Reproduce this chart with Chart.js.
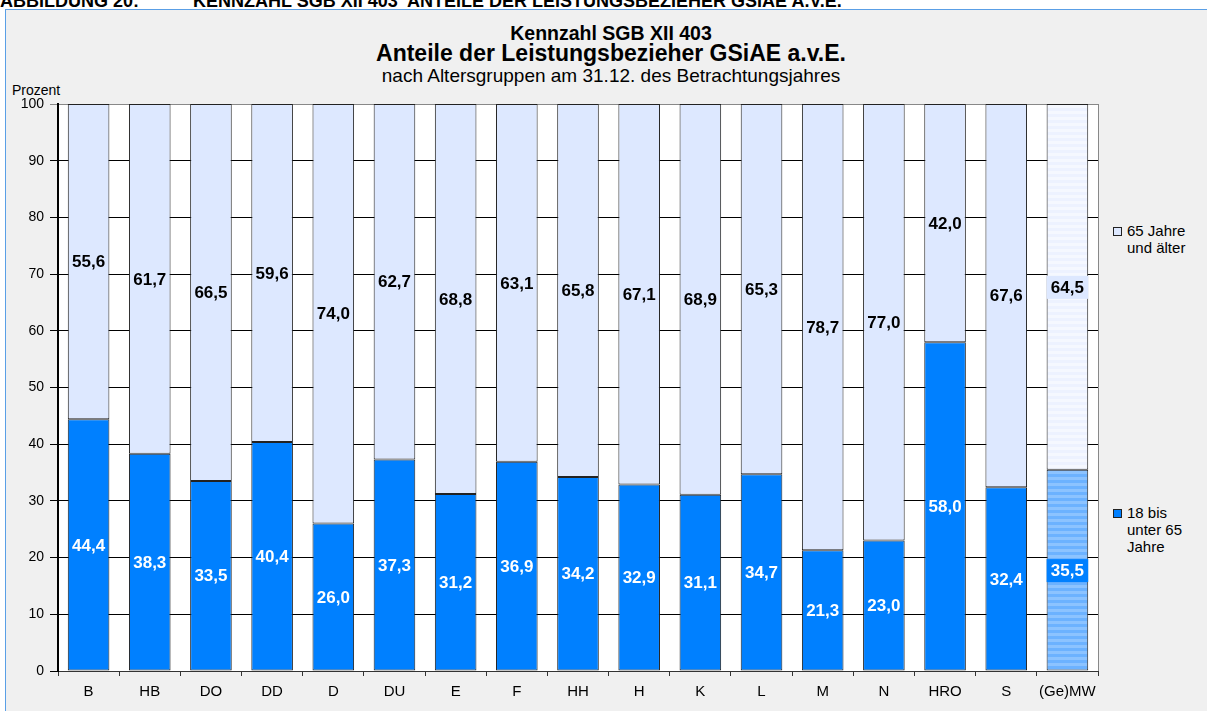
<!DOCTYPE html>
<html>
<head>
<meta charset="utf-8">
<script src="https://cdn.jsdelivr.net/npm/chart.js@4.4.1/dist/chart.umd.min.js"></script>
<style>
  body { margin: 0; width: 1207px; height: 711px; overflow: hidden; background: #fff; font-family: "Liberation Sans", Arial, sans-serif; }
  .kopf { position: absolute; top: -8px; font-size: 18px; line-height: 18px; font-weight: bold; white-space: pre; color: #000; }
  #rahmen { position: absolute; left: 5px; top: 9px; width: 1220px; height: 720px; background: #f0f0f0; border: 1.5px solid #5a9fe6; }
  .t { position: absolute; left: 0; width: 1222px; text-align: center; color: #000; white-space: nowrap; }
  #t1 { top: 24px; font-size: 19.5px; line-height: 19.5px; font-weight: bold; }
  #t2 { top: 42px; font-size: 23px; line-height: 23px; font-weight: bold; }
  #t3 { top: 66px; font-size: 19px; line-height: 19px; }
  #prozent { position: absolute; left: 12px; top: 83px; font-size: 14px; line-height: 14px; }
  .leg { position: absolute; left: 1113px; font-size: 15px; line-height: 17px; }
  .leg span { position: absolute; left: 0; top: 5px; width: 7px; height: 7px; border: 1px solid #222; }
  .leg div { margin-left: 14px; }
  #wrap { position: absolute; left: 0; top: 0; width: 1207px; height: 711px; }
</style>
</head>
<body>
<div class="kopf" style="left:0">ABBILDUNG 20:</div>
<div class="kopf" style="left:193px">KENNZAHL SGB XII 403  ANTEILE DER LEISTUNGSBEZIEHER GSIAE A.V.E.</div>
<div id="rahmen"></div>
<div class="t" id="t1">Kennzahl SGB XII 403</div>
<div class="t" id="t2">Anteile der Leistungsbezieher GSiAE a.v.E.</div>
<div class="t" id="t3">nach Altersgruppen am 31.12. des Betrachtungsjahres</div>
<div id="prozent">Prozent</div>
<div class="leg" style="top:222px"><span style="background:#dde8ff"></span><div>65 Jahre<br>und älter</div></div>
<div class="leg" style="top:504px"><span style="background:#0080ff"></span><div>18 bis<br>unter 65<br>Jahre</div></div>
<div id="wrap"><canvas id="chart" width="1207" height="711"></canvas></div>
<script>
const staedte = ['B', 'HB', 'DO', 'DD', 'D', 'DU', 'E', 'F', 'HH', 'H', 'K', 'L', 'M', 'N', 'HRO', 'S', '(Ge)MW'];
const jung = [44.4, 38.3, 33.5, 40.4, 26.0, 37.3, 31.2, 36.9, 34.2, 32.9, 31.1, 34.7, 21.3, 23.0, 58.0, 32.4, 35.5];
const alt = [55.6, 61.7, 66.5, 59.6, 74.0, 62.7, 68.8, 63.1, 65.8, 67.1, 68.9, 65.3, 78.7, 77.0, 42.0, 67.6, 64.5];
const yTicks = [0, 10, 20, 30, 40, 50, 60, 70, 80, 90, 100];

const BLAU = '#0080ff';
const HELL = '#dde8ff';

// Streifenmuster fuer den Mittelwert-Balken
function streifen(c1, c2) {
    const p = document.createElement('canvas');
    p.width = 4; p.height = 6;
    const g = p.getContext('2d');
    g.fillStyle = c1; g.fillRect(0, 0, 4, 3);
    g.fillStyle = c2; g.fillRect(0, 3, 4, 3);
    return g.createPattern(p, 'repeat');
}
const ctx = document.getElementById('chart').getContext('2d');
const mwJung = streifen('#6cb2ff', '#8cc3ff');
const mwAlt = streifen('#edf2ff', '#f5f8ff');

const fmt = v => v.toFixed(1).replace('.', ',');

const hintergrund = {
    id: 'hintergrund',
    beforeDraw(chart) {
        const a = chart.chartArea, c = chart.ctx;
        c.save();
        c.fillStyle = '#fff';
        c.fillRect(a.left, a.top, a.right - a.left, a.bottom - a.top);
        c.restore();
    },
    afterDraw(chart) {
        const a = chart.chartArea, c = chart.ctx;
        c.save();
        c.strokeStyle = '#888';
        c.lineWidth = 1;
        c.beginPath();
        c.moveTo(a.right + 0.5, a.top);
        c.lineTo(a.right + 0.5, a.bottom);
        c.stroke();
        c.restore();
    }
};

const werte = {
    id: 'werte',
    afterDatasetsDraw(chart) {
        const c = chart.ctx;
        c.save();
        c.font = 'bold 17px "Liberation Sans", Arial, sans-serif';
        c.textAlign = 'center';
        c.textBaseline = 'middle';
        chart.data.datasets.forEach((ds, di) => {
            chart.getDatasetMeta(di).data.forEach((bar, i) => {
                const mid = (bar.y + bar.base) / 2;
                const txt = fmt(ds.data[i]);
                if (i === ds.data.length - 1) {
                    const w = bar.width;
                    c.fillStyle = di === 0 ? BLAU : HELL;
                    c.fillRect(bar.x - w / 2, mid - 11, w, 23);
                }
                c.fillStyle = di === 0 ? '#fff' : '#000';
                c.fillText(txt, bar.x, mid + 1);
            });
        });
        c.restore();
    }
};

new Chart(ctx, {
    type: 'bar',
    data: {
        labels: staedte,
        datasets: [{
            label: '18 bis unter 65 Jahre',
            data: jung,
            backgroundColor: jung.map((v, i) => i === jung.length - 1 ? mwJung : BLAU),
            borderColor: '#222',
            borderWidth: 1,
            borderSkipped: false,
            barPercentage: 0.68,
            categoryPercentage: 1
        }, {
            label: '65 Jahre und älter',
            data: alt,
            backgroundColor: alt.map((v, i) => i === alt.length - 1 ? mwAlt : HELL),
            borderColor: '#222',
            borderWidth: 1,
            borderSkipped: false,
            barPercentage: 0.68,
            categoryPercentage: 1
        }]
    },
    options: {
        responsive: false,
        animation: false,
        layout: { padding: { left: 18, top: 104, right: 109, bottom: 0 } },
        plugins: { legend: { display: false }, tooltip: { enabled: false }, title: { display: false } },
        scales: {
            x: {
                stacked: true,
                afterFit: s => { s.height = 40; },
                grid: { drawOnChartArea: false, color: '#333', tickLength: 5 },
                border: { color: '#333', width: 1 },
                ticks: {
                    color: '#000',
                    font: { size: 15, family: '"Liberation Sans", Arial' },
                    padding: 7,
                    maxRotation: 0,
                    minRotation: 0,
                    autoSkip: false
                }
            },
            y: {
                stacked: true,
                min: 0,
                max: 100,
                afterFit: s => { s.width = 40; },
                afterBuildTicks: s => { s.ticks = yTicks.map(v => ({ value: v })); },
                grid: {
                    color: c => c.tick && c.tick.value === 100 ? '#888' : '#000',
                    lineWidth: 1,
                    tickLength: 8
                },
                border: { color: '#000', width: 2 },
                ticks: { color: '#000', font: { size: 14, family: '"Liberation Sans", Arial' }, padding: 6 }
            }
        }
    },
    plugins: [hintergrund, werte]
});
</script>
</body>
</html>
